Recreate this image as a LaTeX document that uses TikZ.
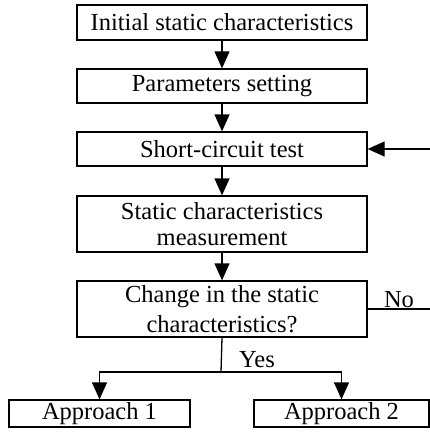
\documentclass[tikz,border=0pt]{standalone}
\usepackage{fontspec}
\setmainfont{Liberation Serif}
\usetikzlibrary{arrows.meta}
\begin{document}
\begin{tikzpicture}[
        x=1pt, y=-1pt,
        font=\fontsize{24.5}{26}\selectfont,
        box/.style={rectangle, draw, line width=1.3pt, minimum width=290pt, inner sep=0pt, align=center},
        result/.style={box, minimum width=180pt, minimum height=27pt},
        arrow/.style={-{Triangle[width=15pt,length=17pt]}, line width=1.3pt},
        line/.style={line width=1.3pt},
        answer/.style={anchor=base, inner sep=0pt}
    ]
    \useasboundingbox (0,0) rectangle (430,439);
    \clip (0,0) rectangle (430,439);

    % Main steps
    \node[box, minimum height=35pt] (init) at (222,22.5) {Initial static characteristics};
    \node[box, minimum height=34pt] (param) at (222,86) {Parameters setting};
    \node[box, minimum height=34pt] (short) at (222,149) {Short-circuit test};
    \node[box, minimum height=56pt] (meas) at (222,224) {Static characteristics\\measurement};
    \node[box, minimum height=56pt] (change) at (222,309) {Change in the static\\[4pt]characteristics?};

    % Approaches
    \node[result, minimum width=181pt] (app1) at (99.5,413.5) {Approach 1};
    \node[result, minimum width=175pt] (app2) at (341.5,413.5) {Approach 2};

    % Flow
    \draw[arrow] (init) -- (param);
    \draw[arrow] (param) -- (short);
    \draw[arrow] (short) -- (meas);
    \draw[arrow] (meas) -- (change);

    % Yes branch
    \draw[line] (change.south) -- (221,372) coordinate (split);
    \draw[arrow] (split) -| (app1.north);
    \draw[arrow] (split) -| (app2.north);
    \node[answer] (yes) at (257,367) {Yes};

    % No branch, back to the test
    \draw[arrow] (change.east) -- ++(73,0) |- (short.east);
    \node[answer] (no) at (399,307) {No};

\end{tikzpicture}
\end{document}
